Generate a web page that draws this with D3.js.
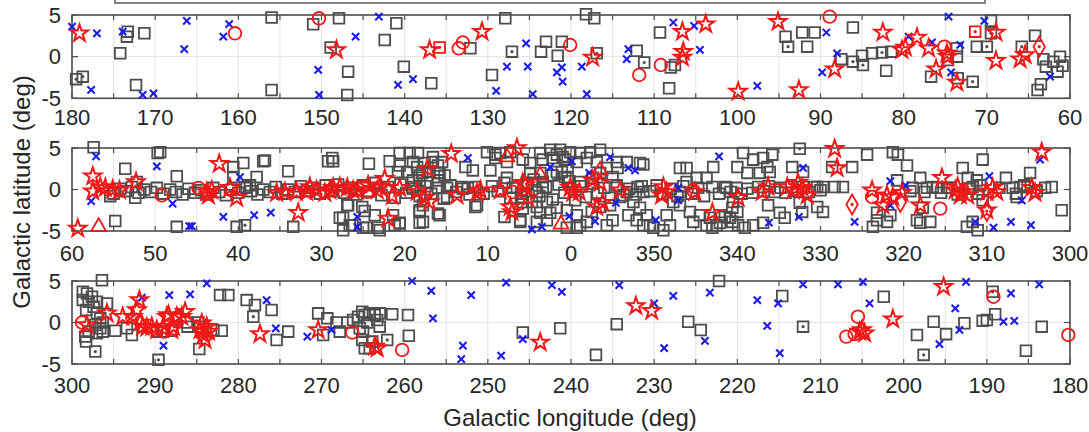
<!DOCTYPE html>
<html lang="en">
<head>
<meta charset="UTF-8">
<title>Galactic plane sources</title>
<script src="https://d3js.org/d3.v7.min.js"></script>
<style>
  body { margin: 0; background: #fff; }
  text { font-family: "Liberation Sans", Arial, sans-serif; fill: #262626; }
</style>
</head>
<body>
<script>
// galactic longitude (deg, 0-360), latitude (deg)
const squares = [
  [173.3,3.0],[173.4,2.4],[171.3,2.8],[174.2,0.4],[172.3,-3.4],[156,4.7],[156,-4.0],[151,3.9],[148.9,1.1],[147.9,4.6],
  [146.8,-1.8],[146.9,-4.6],[142.4,2.0],[141,4.0],[140.1,-1.2],[136.8,-3.2],[132.1,1.0],[127.9,4.6],[129.5,-2.2],[123,1.8],
  [123.6,0.6],[121.6,0.1],[121.1,1.8],[118.2,5.1],[117.2,4.6],[112.1,0.7],[109.3,2.9],[108,-1.3],[107.5,-1.0],[108.2,-3.8],
  [94.2,2.4],[92.2,2.9],[91.6,1.2],[90.7,2.9],[86.1,3.5],[87.5,-0.3],[85,0.1],[83.8,0.4],[81.5,0.6],[82.1,-1.7],
  [76.7,-2.4],[73.6,1.0],[73.6,0],[74.7,-0.4],[71.2,1.2],[69.5,4.3],[64.2,2.5],[63.2,-0.3],[62.9,-1.2],[62,-0.6],
  [61.2,0],[60.9,-1.1],[61.5,-1.8],[63.5,-3.3],[63.9,-4.0],
  [296.4,5.1],[298.7,3.7],[298.2,3.5],[297.6,3.1],[298.7,2.7],[298,2.5],[297,2.5],[297.4,1.9],[298.3,1.5],[297,1.1],
  [295.8,2.3],[296.6,0.5],[297.2,-0.3],[296.6,-0.7],[296.3,-1.1],[297,-1.3],[298,-1.1],[298.4,-1.7],[298.3,-2.3],[294.8,-1.0],
  [296.3,0],[293.4,-0.7],[292.8,-1.5],[289.8,-1.1],[289.1,-1.1],[288,-1.0],[286.2,0],[286.1,-0.5],[284.8,0],[284.6,-0.5],
  [284.7,-3.2],[283,-0.9],[282,-1.0],[282.2,3.3],[281.2,3.3],[279,2.7],[278,2.1],[276,1.5],[275.4,-2.1],[274,-1.1],
  [270.4,1.1],[269.3,0.5],[269.8,-1.5],[268.2,0],[267.8,-1.1],[266.9,0],[266.2,0.3],[265.6,0.7],[265.1,1.3],[264.8,0.9],
  [264.2,1.1],[263.6,0.9],[263,1.1],[263.3,0.3],[263,-0.5],[261.5,1.0],[264.5,0],[265.4,-0.7],[265,-1.1],[265.1,-2.1],
  [264.8,-3.1],[264.2,-3.1],[263.9,-2.3],[259.6,0.9],[259.5,-1.6],[245.8,-1.2],[241.3,-0.7],[237,-3.9],[234.5,-0.2],[225.9,0.1],
  [224.4,-0.9],[222.2,5.0],[214.6,3.2],[202.4,3.1],[198.4,-1.5],[196.4,0.1],[194.9,-1.4],[192.7,-0.1],[190.5,0.2],[190,0.3],
  [189,1.0],[185.3,-3.4],[183.4,-0.5],
  [57.4,5.1],[55.4,-0.8],[54.8,-3.8],[53.6,2.5],[49.7,4.4],[52.2,0.9],[52.4,-1.0],[47.4,1.6],[47.4,-4.5],[40.2,-4.5],
  [40.6,2.7],[39.4,3.2],[40.6,1.5],[37,3.4],[37.8,1.5],[38.6,0.5],[39,0.2],[34,2.2],[33.4,-4.5],[49.4,4.5],
  [36.8,3.5],[29.2,3.4],[28.6,3.4],[24.3,3.1],[21.8,3.4],[27.4,-3.4],[27.4,-4.9],[26.3,-4.3],[24.6,-4.6],[23.2,-4.6],
  [21.2,-4.3],[26.8,-1.9],[25.1,-2.1],[28.7,3.8],[20.6,4.4],[19.4,4.4],[18.4,4.4],[20.8,2.1],[19.7,2.1],[18.5,2.7],
  [17.6,3.2],[16.6,3.3],[15.5,3.3],[17.9,2.0],[17,2.1],[16,2.0],[19,1.1],[18.2,1.1],[16,1.1],[15.2,1.7],
  [12.7,2.7],[11.8,2.3],[9.7,2.3],[10.1,4.5],[9.1,4.2],[8.5,4.4],[7.3,4.5],[5.8,3.6],[4.9,3.2],[3.7,4.4],
  [3.4,3.6],[2.5,4.8],[1.7,4.2],[1,3.9],[0.4,2.7],[0.7,1.5],[1.7,2.1],[3.7,2.0],[4.9,2.0],[26.9,-1.9],
  [27.8,-3.4],[26.6,-4.3],[25,-4.6],[23,-4.9],[23.6,-3.1],[21.4,-3.1],[20.6,-4.1],[18.2,-2.5],[17.8,-3.9],[16,-2.9],
  [11.5,-2.1],[6.1,-3.7],[1.3,4.8],[0.1,4.5],[0.7,3.6],[2.2,3.8],[1.1,2.1],[2.2,1.7],[3.4,0.9],[4.1,-0.3],
  [4.7,-1.5],[4.1,-2.1],[2.9,-1.5],[1.7,-2.2],[2.5,-2.8],[3.7,-2.8],[2.9,-3.7],[0.5,-2.5],[0.5,-4.6],[0.4,1.4],
  [5.8,-1.5],[6.1,-3.9],[4.1,-3.9],[3.4,0.2],[5.3,0.8],[20.6,2.9],[19,3.3],[16.6,3.9],[16,2.9],[15.8,2.0],
  [18.2,1.7],[17.3,0.9],[19.1,0.3],[14.9,0.2],[13.1,0.3],[12.4,0.2],[14.9,-0.9],[17.8,-1.9],[18.2,-2.7],[15.8,-3.1],
  [18.2,-4.0],[20.6,-4.0],[11.3,-1.9],[9.1,3.8],[7.7,3.3],[7.7,1.4],[7,0.2],[8,-3.3],
  [358.9,4.4],[357.7,4.5],[356.5,4.8],[358.1,3.8],[356.9,3.3],[359.3,3.3],[354.4,2.6],[353.3,3.3],[351.7,3.2],[354.5,3.3],
  [355.7,2.6],[356.5,2.0],[355,1.5],[357.4,1.4],[358.9,0.9],[359.3,-3.1],[358.1,-3.9],[358.9,-4.3],[357.5,-2.7],[356.5,-2.1],
  [355.3,-1.9],[354.1,-0.9],[353.3,-0.3],[352.5,-1.5],[351.7,-2.2],[350.9,-3.1],[351.3,-4.3],[350.1,-4.6],[352.1,-3.7],[353.1,-3.1],
  [355,-3.7],[355.7,-4.3],[359.3,-4.6],[339.3,4.4],[338.1,3.6],[336.9,3.8],[335.8,4.2],[340,2.7],[338.8,2.0],[337.3,2.0],
  [336.1,2.1],[336.4,2.7],[333.4,2.7],[332.1,2.1],[328.6,2.7],[326.2,2.7],[324.4,4.2],[321.3,4.5],[320.7,4.2],[319.6,2.9],
  [330.4,0.3],[329.7,0.3],[328.3,0.3],[327.3,0.3],[340.6,-2.2],[341.5,-3.3],[340.6,-3.9],[339.9,-4.3],[339.1,-4.6],[338.1,-4.3],
  [336.9,-4.0],[336.3,-1.9],[334.9,-2.8],[334.3,-3.4],[332.5,-1.6],[332.2,-2.7],[330.4,-2.1],[329.7,-2.7],[342.1,-3.1],[342.1,-4.0],
  [346.9,-1.9],[345.7,-2.7],[344.5,-3.1],[343.3,-3.4],[340.9,-3.4],[340,-2.7],[345.3,-3.9],[343.7,-4.3],[342.5,-4.3],[346.9,-0.3],
  [346.1,0.9],[344.9,1.4],[343.7,1.4],[341.3,0.2],[340.5,-1.5],[348.1,-4.3],[348.5,-3.1],[347.7,-1.5],[346.9,2.6],[346.1,2.6],
  [342.9,2.7],[343,-4.6],[351.3,3.0],[352,0.3],[351.3,-0.3],[350.5,-4.3],[320.8,1.1],[318,1.4],[318.9,0.2],[317.2,0.2],
  [316,0.2],[314.8,0.2],[323.2,-2.8],[323.2,-3.7],[323.7,-4.5],[322,-3.9],[321.6,-3.1],[318.4,-3.7],[318,-4.0],[316.8,-3.9],
  [317.7,-2.2],[312.9,2.6],[310.5,3.6],[312.3,1.4],[311.2,1.1],[311.7,0.3],[310.8,0.5],[312.4,-4.5],[311.1,-4.9],[311.7,-3.9],
  [310.5,-1.3],[307.7,1.4],[306.9,0.2],[306.4,-0.9],[304.8,2.0],[306,0.3],[305.1,0.3],[302.2,0.3],[301,-2.5],
  // plane band
  [55,-0.5],[54.2,0.1],[53.5,-0.2],[52.8,0.3],[52,-0.4],[51.3,0],[50.5,-0.3],[49.8,0.2],[49,-0.5],[48.2,0],
  [47.5,-0.3],[46.7,-0.6],[46,0.1],[45.2,-0.4],[44.5,-0.1],[43.8,-0.6],[43,0.2],[42.3,-0.3],[41.5,-0.7],[40.8,0],
  [40,-0.4],[39.2,0.3],[38.5,-0.2],[37.7,-0.6],[37,0],[36.2,-0.3],[35.5,0.3],[34.7,-0.5],[34,0],[33.2,-0.3],
  [32.5,0.4],[31.7,-0.2],[31,0.2],[30.2,-0.5],[29.5,0.5],[28.8,-0.2],[28,0.6],[27.3,-0.4],[26.5,0.2],[25.8,-0.6],
  [25,0.5],[24.3,-0.2],[23.5,0.8],[22.8,-0.7],[22,0.3],[21.2,-1],[20.5,0.6],[19.8,-0.4],[19,0.1],[18.2,-0.8],
  [17.5,0.4],[16.8,-0.5],[16,0.2],[15.3,-1.1],[14.5,0.5],[13.8,-0.3],[13,0.1],[12.2,-0.6],[11.5,0.3],[10.5,-0.5],
  [9.5,0.4],[8.8,-0.2],[8,0.8],[7.3,-1],[6.5,0.2],[6,-0.5],[5.2,0.6],[4.5,1.2],[3.8,-0.8],[3,0.3],
  [2.2,-1.2],[1.5,0.6],[0.8,-0.4],[0.2,1],[359.5,-1.3],[358.8,0.4],[358.2,-0.9],[357.5,0.7],[356.8,-0.4],[356,0.2],
  [355.2,-1.0],[354.5,0.5],[353.7,-0.7],[353,0.1],[352.2,-0.6],[351.5,0.4],[350.5,-0.2],[349.7,0.5],[349,-0.5],[348,0.1],
  [347.2,-0.8],[346.5,0.4],[345.5,-0.5],[344.7,0.2],[344,-0.8],[343,0.3],[342.2,-0.5],[341.5,0.3],[340.8,-0.3],[340.1,0.2],
  [339.5,-0.5],[338.8,0.1],[338.2,-0.4],[337.5,0.3],[336.8,-0.2],[336.2,0.4],[335.5,-0.3],[334.8,0.2],[334.2,-0.4],[333.5,0.3],
  [332.8,-0.2],[332.1,0.3],[331.4,-0.3],[330.7,0.3],[330,-0.1],[319.2,-0.2],[317.5,-0.3],[316.5,0.3],[315.5,-0.4],[314.5,0.2],
  [313.5,-0.6],[312,0.1],[311,-0.5],[308.5,0.2],[306.5,-0.5],[305.5,0.5],[304,-0.2],[303,0.2]
];
const squaresDot = [
  [179.5,-2.7],[178.7,-2.4],[127.1,0.6],[116.9,0.4],[111.2,-0.7],[93.9,1.2],[86.1,-0.6],[84.9,-1.0],[82.6,0.5],[73.5,-2.6],
  [71.7,-3.0],[70,1.2],[69.5,2.8],[65.8,1.2],
  [297.2,-3.5],[289.6,-4.5],[278.2,0.7],[262.1,-2.1],[212.1,-0.5],[197.6,-3.9],[189.3,3.7],
  [24.8,-2.6],[5.8,-2.3],[5.9,-0.9],[39.2,-4.3],[332.5,4.9],[348.9,-4.9]
];
const crosses = [
  [180,3.6],[177,2.8],[173.9,3.0],[177.7,-4],[171.5,-4.6],[170.2,-4.4],[166.5,0.9],[166.2,4.3],[161.8,2.4],[161.1,3.9],
  [150.4,-1.6],[150.3,-4.6],[145.9,2.4],[143.1,4.8],[140.8,-3.4],[139,-2.7],[129,-4.1],[127.7,-1.2],[125.4,1.6],[125.2,-1.2],
  [124.6,-4.5],[121.1,-1.3],[121.7,-1.9],[121,-3.0],[118.7,-1.2],[118.1,-4.5],[113.1,0.9],[113.3,-0.3],[107.7,4.1],[105.2,3.7],
  [104.5,0.8],[97.6,-3.5],[89.3,2.9],[89.8,-1.9],[88,0.4],[79.4,2.4],[76.6,1.7],[74.6,4.8],[73.2,1.4],[74.3,-1.9],
  [70.3,4.3],[62.4,-2.4],
  [291.6,3.0],[289,-2.8],[288.3,3.3],[285.8,3.4],[283.8,4.7],[276.6,2.7],[275.5,-0.7],[271.7,-1.7],[268.8,-0.9],[259.1,5.0],
  [256.8,3.8],[256.6,0.5],[252,3.3],[253,-2.8],[253.2,-4.4],[248.4,-4.0],[247.8,4.8],[245.8,-2.0],[242.3,4.5],[241.1,3.7],
  [234.2,4.5],[230,2.3],[228.8,-3.1],[227.7,3.2],[223.9,-2.2],[223.3,3.6],[217.6,2.7],[216.4,-0.4],[215.1,2.3],[214.9,-3.7],
  [212.1,4.6],[207.9,4.6],[204.9,4.9],[204.1,2.3],[195.7,-2.6],[193.8,1.7],[193.3,-0.9],[192.5,4.9],[188,0.1],[187.1,3.5],
  [186.7,0.2],[183.7,4.6],
  [57.1,4.0],[57.7,-1.4],[49.8,2.8],[47.9,-1.7],[45.9,-4.4],[45.6,-4.4],[41.8,-3.3],[39.8,1.5],[38.1,-3.1],[36.1,-2.8],
  [25.7,-4.5],[25.7,-3.3],[12.4,3.8],[2.5,2.7],[4.7,-4.8],[3.5,-4.5],[359.9,3.4],[357.8,2.0],[355.3,3.9],[353.1,2.6],
  [352.3,2.3],[342.2,4.0],[0.2,-3.2],[357.1,-3.8],[354.6,-1.6],[349.8,-3.7],[347.1,0.2],[347.1,-1.3],[332.1,2.6],[321.6,1.0],
  [319.8,0.5],[321.6,-1.9],[325.9,-3.9],[336.2,-4.0],[332.6,-3.3],[309.7,1.6],[311.4,-3.9],[309.2,-4.6],[307.1,-3.9],[304.7,-4.3],
  [305.8,-1.3],[303.6,3.6]
];
const stars = [
  [179.1,2.8],[148.2,0.8],[137,0.8],[130.7,3.0],[117.4,-0.1],[106.6,3.0],[106.5,0.6],[106.6,-0.1],[103.8,3.9],[99.9,-4.2],
  [95.1,4.2],[92.6,-4.0],[88.3,-1.5],[82.5,2.9],[80.2,0.8],[79.8,1.1],[78.4,2.3],[77,1.0],[76.1,-1.5],[74.8,0.4],
  [74.7,0],[73.6,-3.1],[68.9,2.9],[68.9,-0.5],[66,-0.3],[65.4,0.2],
  [298.2,-0.3],[295.8,1.1],[293.9,0.7],[292.7,0.7],[291.9,2.7],[292.2,1.5],[291.8,0],[291,-0.6],[290.4,-0.5],[289.8,-0.9],
  [289.1,-0.7],[288.6,0.7],[287.8,-0.5],[288.4,0.9],[287.4,0.7],[286.4,1.3],[286.8,0.7],[291.5,-0.5],[288,-0.9],[284.6,-0.9],
  [284.2,-1.5],[283.8,-0.5],[284,-2.1],[284.4,-0.1],[283.6,-1.1],[277.4,-1.4],[270.4,-0.9],[263.6,-2.9],[263.3,-3.1],[243.7,-2.4],
  [232.2,2.0],[230.3,1.4],[205.3,-1.1],[204.7,-1.3],[205,-0.9],[201.3,0.4],[195.2,4.3],
  [59.3,-4.7],[57.5,1.6],[57.5,-0.2],[56,0.2],[55.1,0],[56.6,0.3],[54.3,-0.1],[52.3,0.9],[42.3,3.1],[43.6,-0.7],
  [40.2,-1.0],[43.2,-0.1],[43.8,-0.3],[41,0.2],[35.4,-0.4],[34.4,-0.3],[33,-0.3],[31.8,-0.3],[30.6,-0.1],[29.6,-0.4],
  [28.6,0.2],[26.9,0.2],[25.7,-0.1],[24.4,0.5],[23,0.3],[22.4,1.3],[21.5,-0.8],[32.8,-2.8],[22,-3.5],[31.4,0.3],
  [29,-0.1],[27.8,0.3],[26.2,-0.1],[23.3,-0.1],[18.5,-0.3],[17.6,-1.0],[17,-1.5],[17.3,2.5],[14.4,4.3],[13.7,-0.7],
  [10.9,-0.1],[8.5,-0.1],[7.3,-2.1],[7.1,-2.7],[5.8,0.8],[5.2,-1.0],[6.5,5.0],[5.5,0.5],[20.6,0.2],[11.3,-0.4],
  [0.1,0.2],[359.8,-0.4],[357.4,1.1],[356.5,0.8],[356.9,-2.1],[356.2,-1.6],[354.1,-0.1],[359,-0.3],[348.9,0.3],[348.5,-0.3],
  [349.1,-0.7],[345.1,-0.3],[343,-2.8],[339.9,-1.0],[337,-0.3],[336.3,0.3],[334,0.3],[333.3,-0.1],[332.2,0.2],[331.6,-0.7],
  [332.7,0.8],[328.3,4.9],[328,2.6],[323.8,-0.1],[322,-0.7],[322.5,-1.9],[321.3,-0.9],[320.2,-0.4],[318,-1.9],[315.4,1.4],
  [313.8,-0.1],[313.5,0.3],[312.9,-0.3],[312.3,-0.7],[313.2,-0.7],[310,-0.3],[308.8,-0.3],[310,-2.5],[309.3,0.2],[304.6,0.2],
  [304.2,-0.4],[303.4,4.5]
];
const circles = [
  [160.4,2.8],[150.3,4.6],[133,1.7],[133.5,1.0],[120.1,1.4],[111.8,-2.2],[109.2,-1.0],[88.9,4.8],[75.1,1.2],
  [298.8,0],[266.3,-1.2],[260.3,-3.3],[205.5,0.7],[206.9,-1.7],[205.9,-1.4],[189.2,3.1],[180.2,-1.5],
  [49.2,-0.7],[44.8,0.2],[24.5,-0.3],[25,0.3],[7,-0.3],[345.3,-0.1],[331.7,-0.4],[323.8,-0.9],[315.6,-2.3]
];
const triangles = [[56.8,-4.5],[7.7,3.9],[3.7,1.7],[356.5,2.3],[1.2,-4.2]];
const diamondsDot = [[63.7,1.2],[326.2,-1.8],[310,-2.6]];
const diamonds = [[320.4,-1.5]];
const redSquaresDot = [[135.8,1.1],[71.4,3.0]];

const xTicks = d3.range(-60, 301, 5);
const latTicks = [-5, 0, 5];

const W = 1089, H = 432;
const left = 72, right = 1070;
const panels = [
  {top: 15, bottom: 98.3, lo: 60, hi: 180, labelDy: 27},
  {top: 148, bottom: 231, lo: -60, hi: 60, labelDy: 30},
  {top: 281, bottom: 364, lo: 180, hi: 300, labelDy: 29}
];
const grey = "#4d4d4d", blue = "#1c1ce8", red = "#f51616";

const svg = d3.select("body").append("svg").attr("width", W).attr("height", H);

// legend box, cut off at the top of the figure
svg.append("rect").attr("x", 115).attr("y", -30).attr("width", 870).attr("height", 33)
  .attr("fill", "#fff").attr("stroke", "#666").attr("stroke-width", 1.6);

function panelOf(l) {
  if (l >= 300 || l < 60) return 1;
  if (l <= 180) return 0;
  return 2;
}
function shown(l, p) { return (p === 1 && l >= 300) ? l - 360 : l; }

panels.forEach(function(p, i) {
  p.x = d3.scaleLinear().domain([p.hi, p.lo]).range([left, right]);
  p.y = d3.scaleLinear().domain([-5, 5]).range([p.bottom, p.top]);
  const g = svg.append("g");
  p.g = g;
  const ticks = xTicks.filter(function(d){ return d >= p.lo && d <= p.hi; });

  g.selectAll(".gx").data(ticks).enter().append("line")
    .attr("x1", p.x).attr("x2", p.x).attr("y1", p.top).attr("y2", p.bottom)
    .attr("stroke", "#e3e3e3").attr("stroke-width", 1);
  g.append("line").attr("x1", left).attr("x2", right).attr("y1", p.y(0)).attr("y2", p.y(0))
    .attr("stroke", "#e3e3e3").attr("stroke-width", 1);

  g.selectAll(".tb").data(ticks).enter().append("line")
    .attr("x1", p.x).attr("x2", p.x).attr("y1", p.bottom).attr("y2", p.bottom - 5)
    .attr("stroke", grey).attr("stroke-width", 1.2);
  g.selectAll(".tt").data(ticks).enter().append("line")
    .attr("x1", p.x).attr("x2", p.x).attr("y1", p.top).attr("y2", p.top + 5)
    .attr("stroke", grey).attr("stroke-width", 1.2);
  g.selectAll(".ty").data(latTicks).enter().append("line")
    .attr("x1", left).attr("x2", left + 6).attr("y1", p.y).attr("y2", p.y)
    .attr("stroke", grey).attr("stroke-width", 1.2);
  g.selectAll(".ty2").data(latTicks).enter().append("line")
    .attr("x1", right).attr("x2", right - 6).attr("y1", p.y).attr("y2", p.y)
    .attr("stroke", grey).attr("stroke-width", 1.2);

  g.append("rect").attr("x", left).attr("y", p.top).attr("width", right - left).attr("height", p.bottom - p.top)
    .attr("fill", "none").attr("stroke", grey).attr("stroke-width", 1.6);

  g.selectAll(".lx").data(ticks.filter(function(d){ return d % 10 === 0; })).enter().append("text")
    .attr("x", p.x).attr("y", p.bottom + p.labelDy)
    .attr("text-anchor", "middle").attr("font-size", "22px")
    .text(function(d){ return d < 0 ? d + 360 : d; });
  g.selectAll(".ly").data(latTicks).enter().append("text")
    .attr("x", 61).attr("y", p.y).attr("dy", "0.35em")
    .attr("text-anchor", "end").attr("font-size", "22px")
    .text(function(d){ return d; });
});

function draw(data, type, size, stroke, width, fill) {
  const sym = d3.symbol().type(type).size(size);
  data.forEach(function(d) {
    const pi = panelOf(d[0]);
    const p = panels[pi];
    p.g.append("path")
      .attr("d", sym())
      .attr("transform", "translate(" + p.x(shown(d[0], pi)) + "," + p.y(d[1]) + ")")
      .attr("fill", fill || "none").attr("stroke", stroke).attr("stroke-width", width);
  });
}
function dots(data, color) {
  data.forEach(function(d) {
    const pi = panelOf(d[0]);
    const p = panels[pi];
    p.g.append("circle").attr("cx", p.x(shown(d[0], pi))).attr("cy", p.y(d[1])).attr("r", 1.6).attr("fill", color);
  });
}

draw(squares, d3.symbolSquare, 115, grey, 1.8);
draw(squaresDot, d3.symbolSquare, 115, grey, 1.8);
dots(squaresDot, grey);
draw(crosses, d3.symbolTimes, 36, blue, 2.1);
draw(circles, d3.symbolCircle, 125, red, 1.8);
draw(redSquaresDot, d3.symbolSquare, 115, red, 1.8);
dots(redSquaresDot, red);
draw(diamonds, d3.symbolDiamond, 115, red, 1.8);
draw(diamondsDot, d3.symbolDiamond, 115, red, 1.8);
dots(diamondsDot, red);
draw(triangles, d3.symbolTriangle, 95, red, 1.8);
draw(stars, d3.symbolStar, 90, red, 2);

svg.append("text").attr("x", 570).attr("y", 426).attr("text-anchor", "middle")
  .attr("font-size", "24px").text("Galactic longitude (deg)");
svg.append("text").attr("transform", "translate(22,192) rotate(-90)")
  .attr("text-anchor", "middle").attr("dy", "0.35em")
  .attr("font-size", "24px").text("Galactic latitude (deg)");
</script>
</body>
</html>
